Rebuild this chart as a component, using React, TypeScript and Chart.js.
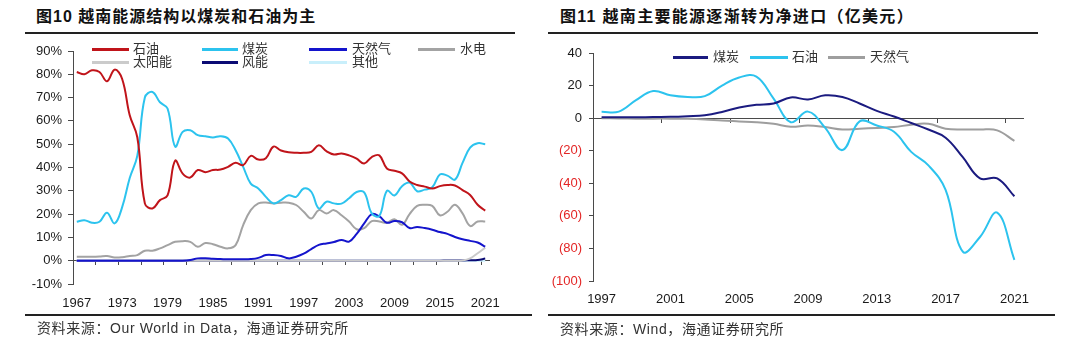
import React, { useEffect, useRef } from 'react';
import { Chart, registerables } from 'chart.js';

Chart.register(...registerables);

// ---------- Left chart: Vietnam energy mix (%) ----------
const mixYears = [
  '1967','1968','1969','1970','1971','1972','1973','1974','1975','1976',
  '1977','1978','1979','1980','1981','1982','1983','1984','1985','1986',
  '1987','1988','1989','1990','1991','1992','1993','1994','1995','1996',
  '1997','1998','1999','2000','2001','2002','2003','2004','2005','2006',
  '2007','2008','2009','2010','2011','2012','2013','2014','2015','2016',
  '2017','2018','2019','2020','2021',
];
const oilShare = [
  81, 80, 81.7, 81, 77, 82, 78, 62.4, 53, 24.6,
  22.4, 26, 28, 42.9, 37.4, 35.7, 38.9, 38, 38.9, 39.1,
  40.3, 42, 41, 45, 43.4, 44, 49, 47.3, 46.5, 46.3,
  46.3, 46.7, 49.5, 47, 45.6, 46, 45.2, 43.8, 41.7, 44.5,
  45.2, 39.6, 38.6, 37.5, 34, 32.5, 31.8, 31, 32, 32.5,
  32.3, 30.3, 28.2, 24, 21.5,
];
const coalShare = [
  16.7, 17.4, 16.3, 16.7, 20.6, 16, 23, 35.5, 45, 70,
  72.4, 68, 65.3, 49, 55.3, 56, 53.9, 53.4, 52.9, 53.4,
  52.4, 47.4, 40.3, 33.1, 31, 27.4, 24.6, 26, 28.1, 27.4,
  31, 29.6, 22.4, 25.3, 24.6, 24.5, 26.8, 29.5, 29.3, 20.3,
  19.2, 30, 28, 32, 33.5, 29.8, 30.5, 31.5, 37, 36.5,
  34.8, 42, 48.5, 50.4, 50,
];
const gasShare = [
  0, 0, 0, 0, 0, 0, 0, 0, 0, 0,
  0, 0, 0, 0, 0, 0.3, 1, 1, 0.8, 0.7,
  0.6, 0.6, 0.6, 0.7, 1.2, 2.4, 2.4, 2, 1, 1.7,
  3, 5, 6.8, 7.4, 8, 8.9, 8.2, 11.5, 16, 20,
  19, 16.3, 17, 16.5, 14, 14.5, 14, 13.3, 12.3, 11.5,
  10.2, 9.2, 8.5, 7.8, 6,
];
const hydroShare = [
  1.7, 1.7, 1.7, 1.8, 2, 1.4, 1.5, 2, 2.4, 4.3,
  4.3, 5.3, 6.7, 8.1, 8.4, 8.1, 6, 7.6, 7.1, 6,
  5.3, 6.7, 15.3, 21.7, 24.6, 25, 24.6, 24.9, 24.9, 23.9,
  21, 18.1, 21.7, 20.3, 21.7, 19.5, 16.8, 13.5, 14, 17,
  16.8, 16.3, 17.8, 15.4, 20, 23.5, 24, 23.5, 19.5, 21,
  24, 20.3, 14.9, 16.8, 16.8,
];
const solarShare = [
  0, 0, 0, 0, 0, 0, 0, 0, 0, 0,
  0, 0, 0, 0, 0, 0, 0, 0, 0, 0,
  0, 0, 0, 0, 0, 0, 0, 0, 0, 0,
  0, 0, 0, 0, 0, 0, 0, 0, 0, 0,
  0, 0, 0, 0, 0, 0, 0, 0, 0, 0,
  0, 0.1, 1, 3.2, 5.6,
];
const windShare = [
  0, 0, 0, 0, 0, 0, 0, 0, 0, 0,
  0, 0, 0, 0, 0, 0, 0, 0, 0, 0,
  0, 0, 0, 0, 0, 0, 0, 0, 0, 0,
  0, 0, 0, 0, 0, 0, 0, 0, 0, 0,
  0, 0, 0, 0, 0, 0, 0, 0, 0, 0.1,
  0.1, 0.1, 0.2, 0.3, 0.9,
];
const otherShare = [
  0, 0, 0, 0, 0, 0, 0, 0, 0, 0,
  0, 0, 0, 0, 0, 0, 0, 0, 0, 0,
  0, 0, 0, 0, 0, 0, 0, 0, 0, 0,
  0, 0, 0, 0, 0, 0, 0, 0, 0, 0,
  0, 0, 0, 0, 0, 0, 0, 0, 0, 0,
  0, 0, 0, 0, 0,
];
const mixNames = ['石油', '煤炭', '天然气', '水电', '太阳能', '风能', '其他'];
const mixColors = ['#C0141A', '#2CC3EE', '#1414CC', '#A3A3A3', '#CBCBCB', '#0B0B74', '#C9EFFB'];

// ---------- Right chart: net trade (亿美元) ----------
const tradeYears = [
  '1997','1998','1999','2000','2001','2002','2003','2004','2005','2006',
  '2007','2008','2009','2010','2011','2012','2013','2014','2015','2016',
  '2017','2018','2019','2020','2021',
];
const coalNet = [
  0.5, 0.5, 0.5, 0.7, 0.8, 1.2, 1.8, 3.8, 6.5, 8.2,
  9, 12.7, 11.5, 14, 13, 9, 4.5, 1, -3, -7,
  -12, -24, -37, -37, -48,
];
const oilNet = [
  3.9, 4, 11, 16.6, 14, 13, 13.5, 20, 25, 25.5,
  12, -2.5, 4, -6, -19.6, -2, -4.5, -8.4, -20.7, -29,
  -44, -82, -73, -58, -87,
];
const gasNet = [
  0, -0.2, -0.3, -0.3, -0.3, -0.4, -0.8, -1.5, -2, -2.5,
  -3.5, -5.3, -4.5, -5.5, -7, -6.5, -6, -5.5, -4, -3.5,
  -6.5, -7, -7, -7.5, -14,
];
const tradeNames = ['煤炭', '石油', '天然气'];
const tradeColors = ['#1B1B80', '#2CC3EE', '#9E9E9E'];

const AXIS = '#4a4a4a';
const TICK_FONT = { family: '"Liberation Sans", Arial, sans-serif', size: 13 };
const CJK = '"Liberation Sans", "Noto Sans CJK SC", sans-serif';

function MixChart() {
  const ref = useRef<HTMLCanvasElement>(null);
  useEffect(() => {
    const series = [oilShare, coalShare, gasShare, hydroShare, solarShare, windShare, otherShare];
    const chart = new Chart(ref.current!, {
      type: 'line',
      data: {
        labels: mixYears,
        datasets: series.map((d, i) => ({
          label: mixNames[i],
          data: d,
          borderColor: mixColors[i],
          backgroundColor: mixColors[i],
          borderWidth: 2,
          pointRadius: 0,
          tension: 0.4,
          fill: false,
          xAxisID: 'x',
          yAxisID: 'y',
        })),
      },
      options: {
        responsive: false,
        animation: false,
        layout: { padding: { left: 0, right: 51, top: 51, bottom: 6 } },
        plugins: { legend: { display: false }, tooltip: { enabled: false } },
        scales: {
          y: {
            min: -10,
            max: 90,
            afterFit: (s: any) => { s.width = 73; },
            ticks: { stepSize: 10, callback: (v: any) => v + '%', font: TICK_FONT, color: '#1a1a1a', padding: 6 },
            grid: { drawOnChartArea: false, tickLength: 5, color: AXIS },
            border: { color: AXIS },
          },
          x: {
            type: 'category',
            position: 'bottom',
            offset: true,
            afterFit: (s: any) => { s.height = 30; },
            grid: { display: false, drawTicks: false },
            border: { display: false },
            ticks: {
              autoSkip: false, maxRotation: 0, padding: 12, font: TICK_FONT, color: '#1a1a1a',
              callback: (_v: any, i: number) => (i % 6 === 0 ? mixYears[i] : ''),
            },
          },
          x0: {
            type: 'category',
            axis: 'x',
            position: { y: 0 },
            offset: true,
            z: 1,
            grid: {
              offset: true, drawOnChartArea: false, tickLength: 4,
              color: (c: any) => (c.index % 3 === 0 ? AXIS : 'rgba(0,0,0,0)'),
            },
            ticks: { display: false },
            border: { color: AXIS },
          },
        } as any,
      },
    });
    return () => chart.destroy();
  }, []);
  return <canvas ref={ref} width={540} height={320} style={{ position: 'absolute', left: 0, top: 0, width: 540, height: 320 }} />;
}

function TradeChart() {
  const ref = useRef<HTMLCanvasElement>(null);
  useEffect(() => {
    const series = [coalNet, oilNet, gasNet];
    const chart = new Chart(ref.current!, {
      type: 'line',
      data: {
        labels: tradeYears,
        datasets: series.map((d, i) => ({
          label: tradeNames[i],
          data: d,
          borderColor: tradeColors[i],
          backgroundColor: tradeColors[i],
          borderWidth: 2,
          pointRadius: 0,
          tension: 0.4,
          fill: false,
          xAxisID: 'x',
          yAxisID: 'y',
        })),
      },
      options: {
        responsive: false,
        animation: false,
        layout: { padding: { left: 0, right: 57, top: 53, bottom: 9 } },
        plugins: { legend: { display: false }, tooltip: { enabled: false } },
        scales: {
          y: {
            min: -100,
            max: 40,
            afterFit: (s: any) => { s.width = 53; },
            ticks: {
              stepSize: 20, font: TICK_FONT, padding: 7,
              callback: (v: any) => (v < 0 ? '(' + Math.abs(v) + ')' : String(v)),
              color: (c: any) => (c.tick && c.tick.value < 0 ? '#E32626' : '#1a1a1a'),
            },
            grid: { drawOnChartArea: false, tickLength: 4, color: AXIS },
            border: { color: AXIS },
          },
          x: {
            type: 'category',
            position: 'bottom',
            offset: true,
            afterFit: (s: any) => { s.height = 30; },
            grid: { display: false, drawTicks: false },
            border: { display: false },
            ticks: {
              autoSkip: false, maxRotation: 0, padding: 11, font: TICK_FONT, color: '#1a1a1a',
              callback: (_v: any, i: number) => (i % 4 === 0 ? tradeYears[i] : ''),
            },
          },
          x0: {
            type: 'category',
            axis: 'x',
            position: { y: 0 },
            offset: true,
            z: 1,
            grid: {
              offset: true, drawOnChartArea: false, tickLength: 4,
              color: (c: any) => (c.index % 4 === 0 ? AXIS : 'rgba(0,0,0,0)'),
            },
            ticks: { display: false },
            border: { color: AXIS },
          },
        } as any,
      },
    });
    return () => chart.destroy();
  }, []);
  return <canvas ref={ref} width={540} height={320} style={{ position: 'absolute', left: 540, top: 0, width: 540, height: 320 }} />;
}

function LegendItem({ lx, lw, tx, y, color, label, h = 3 }: any) {
  return (
    <>
      <div style={{ position: 'absolute', left: lx, top: y - Math.floor(h / 2), width: lw, height: h, background: color }} />
      <div style={{ position: 'absolute', left: tx, top: y - 9, height: 18, lineHeight: '18px', fontSize: 13, fontFamily: CJK, color: '#333', whiteSpace: 'nowrap' }}>{label}</div>
    </>
  );
}

const textBase: React.CSSProperties = { position: 'absolute', whiteSpace: 'nowrap', fontFamily: CJK };

export default function App() {
  return (
    <div style={{ position: 'absolute', left: 0, top: 0, width: 1080, height: 349, background: '#fff', overflow: 'hidden' }}>
      {/* titles */}
      <div style={{ ...textBase, left: 36, top: 7, fontSize: 16, lineHeight: '20px', fontWeight: 700, color: '#111', letterSpacing: 1 }}>图10 越南能源结构以煤炭和石油为主</div>
      <div style={{ ...textBase, left: 560, top: 7, fontSize: 16, lineHeight: '20px', fontWeight: 700, color: '#111', letterSpacing: 1.3 }}>图11 越南主要能源逐渐转为净进口（亿美元）</div>
      <div style={{ position: 'absolute', left: 25, top: 32, width: 490, height: 2, background: '#222' }} />
      <div style={{ position: 'absolute', left: 548, top: 32, width: 490, height: 2, background: '#222' }} />

      <MixChart />
      <TradeChart />

      {/* left legend */}
      <LegendItem lx={92} lw={37} tx={133} y={49} color={mixColors[0]} label={mixNames[0]} />
      <LegendItem lx={202} lw={36} tx={242} y={49} color={mixColors[1]} label={mixNames[1]} />
      <LegendItem lx={309} lw={38} tx={352} y={49} color={mixColors[2]} label={mixNames[2]} />
      <LegendItem lx={418} lw={37} tx={460} y={49} color={mixColors[3]} label={mixNames[3]} />
      <LegendItem lx={92} lw={37} tx={133} y={62} color={mixColors[4]} label={mixNames[4]} />
      <LegendItem lx={202} lw={36} tx={242} y={62} color={mixColors[5]} label={mixNames[5]} />
      <LegendItem lx={309} lw={38} tx={352} y={62} color={mixColors[6]} label={mixNames[6]} />

      {/* right legend */}
      <LegendItem lx={673} lw={35} tx={713} y={57} color={tradeColors[0]} label={tradeNames[0]} />
      <LegendItem lx={750} lw={38} tx={792} y={57} color={tradeColors[1]} label={tradeNames[1]} />
      <LegendItem lx={828} lw={37} tx={870} y={57} color={tradeColors[2]} label={tradeNames[2]} />

      {/* source lines */}
      <div style={{ position: 'absolute', left: 25, top: 314, width: 507, height: 2, background: '#222' }} />
      <div style={{ position: 'absolute', left: 548, top: 314, width: 507, height: 2, background: '#222' }} />
      <div style={{ ...textBase, left: 37, top: 319, fontSize: 14, lineHeight: '18px', color: '#333', letterSpacing: 0.6 }}>资料来源：Our World in Data，海通证券研究所</div>
      <div style={{ ...textBase, left: 560, top: 320, fontSize: 14, lineHeight: '18px', color: '#333', letterSpacing: 0.6 }}>资料来源：Wind，海通证券研究所</div>
    </div>
  );
}
